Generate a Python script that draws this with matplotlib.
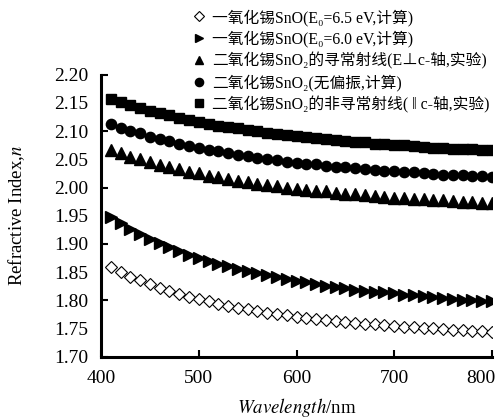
import matplotlib
matplotlib.use("Agg")
import matplotlib.pyplot as plt
from matplotlib.ticker import MultipleLocator, FixedLocator, FormatStrFormatter
from matplotlib.transforms import ScaledTranslation

plt.rcParams['font.family'] = ['Liberation Serif', 'Noto Sans CJK SC', 'DejaVu Serif']
plt.rcParams['mathtext.fontset'] = 'stix'

# длины волн, нм
wavelength = list(range(410, 801, 10))

# SnO, E0 = 6.5 eV (расчёт)
sno_65 = [1.859, 1.850, 1.842, 1.835, 1.828, 1.822, 1.817, 1.811, 1.806, 1.802,
          1.798, 1.794, 1.790, 1.787, 1.784, 1.781, 1.778, 1.776, 1.773, 1.771,
          1.769, 1.767, 1.765, 1.763, 1.762, 1.760, 1.758, 1.757, 1.756, 1.754,
          1.753, 1.752, 1.751, 1.750, 1.749, 1.748, 1.747, 1.746, 1.745, 1.744]

# SnO, E0 = 6.0 eV (расчёт)
sno_60 = [1.948, 1.937, 1.927, 1.918, 1.909, 1.901, 1.894, 1.887, 1.881, 1.875,
          1.870, 1.865, 1.860, 1.856, 1.851, 1.848, 1.844, 1.841, 1.837, 1.834,
          1.832, 1.829, 1.826, 1.824, 1.822, 1.819, 1.817, 1.815, 1.814, 1.812,
          1.810, 1.809, 1.807, 1.806, 1.804, 1.803, 1.801, 1.800, 1.799, 1.798]

# SnO2, обыкновенный луч (эксперимент)
sno2_o = [2.067, 2.061, 2.055, 2.050, 2.045, 2.040, 2.036, 2.032, 2.028, 2.025,
          2.021, 2.018, 2.015, 2.012, 2.010, 2.007, 2.005, 2.002, 2.000, 1.998,
          1.996, 1.994, 1.993, 1.991, 1.989, 1.988, 1.986, 1.985, 1.984, 1.982,
          1.981, 1.980, 1.979, 1.978, 1.977, 1.976, 1.975, 1.974, 1.973, 1.972]

# SnO2, без поляризации (расчёт)
sno2_avg = [2.112, 2.106, 2.100, 2.096, 2.090, 2.086, 2.082, 2.078, 2.074, 2.071,
            2.067, 2.064, 2.061, 2.058, 2.056, 2.053, 2.051, 2.048, 2.046, 2.044,
            2.042, 2.041, 2.039, 2.037, 2.036, 2.034, 2.033, 2.031, 2.030, 2.029,
            2.028, 2.027, 2.025, 2.024, 2.023, 2.022, 2.022, 2.021, 2.020, 2.019]

# SnO2, необыкновенный луч (эксперимент)
sno2_e = [2.157, 2.151, 2.146, 2.141, 2.136, 2.132, 2.128, 2.124, 2.120, 2.117,
          2.113, 2.110, 2.107, 2.105, 2.102, 2.100, 2.097, 2.095, 2.093, 2.091,
          2.089, 2.088, 2.086, 2.084, 2.083, 2.081, 2.080, 2.078, 2.077, 2.076,
          2.075, 2.074, 2.072, 2.071, 2.070, 2.069, 2.069, 2.068, 2.067, 2.066]

labels = ["一氧化锡SnO(E₀=6.5 eV,计算)",
          "一氧化锡SnO(E₀=6.0 eV,计算)",
          "二氧化锡SnO₂的寻常射线(E⊥c-轴,实验)",
          "二氧化锡SnO₂(无偏振,计算)",
          "二氧化锡SnO₂的非寻常射线( ‖ c-轴,实验)"]

fig = plt.figure(figsize=(5.03, 4.18), dpi=100)
ax = fig.add_axes([0.201, 0.147, 0.777, 0.674])

ax.plot(wavelength, sno_65, ls='none', marker='D', ms=6.0, mfc='white', mec='black', mew=0.8, label=labels[0])
ax.plot(wavelength, sno_60, ls='none', marker='>', ms=8, color='black', label=labels[1])
ax.plot(wavelength, sno2_o, ls='none', marker='^', ms=8, color='black', label=labels[2])
ax.plot(wavelength, sno2_avg, ls='none', marker='o', ms=7.4, color='black', label=labels[3])
ax.plot(wavelength, sno2_e, ls='none', marker='s', ms=7.0, color='black', label=labels[4])

ax.set_xlim(400, 800)
ax.set_ylim(1.70, 2.20)

# оси
for s in ['top', 'right']:
    ax.spines[s].set_visible(False)
for s in ['left', 'bottom']:
    ax.spines[s].set_linewidth(2.2)

ax.set_xticks([400, 500, 600, 700, 800])
ax.yaxis.set_major_locator(MultipleLocator(0.1))
ax.yaxis.set_minor_locator(FixedLocator([1.75, 1.85, 1.95, 2.05, 2.15]))
ax.yaxis.set_major_formatter(FormatStrFormatter('%.2f'))
ax.yaxis.set_minor_formatter(FormatStrFormatter('%.2f'))
ax.tick_params(axis='both', which='major', direction='in', length=5, width=1.5, labelsize=14)
ax.tick_params(axis='y', which='minor', length=0, labelsize=14)
ax.tick_params(axis='y', which='both', pad=9)
ax.tick_params(axis='x', which='major', pad=10)

ax.set_xlabel(r'$\it{Wavelength}$/nm', fontsize=13.5, labelpad=6)
ax.set_ylabel(r'Refractive Index,$n$', fontsize=13.5, labelpad=20)

# подпись 800 прижата вправо, чтобы не обрезалась
tick800 = ax.xaxis.get_major_ticks()[4]
tick800.label1.set_horizontalalignment('right')
tick800.label1.set_transform(tick800.label1.get_transform() + ScaledTranslation(4 / 100, 0, fig.dpi_scale_trans))

leg = fig.legend(loc='upper left', bbox_to_anchor=(0.364, 0.997), frameon=False, fontsize=11.3,
                 handlelength=1.0, handletextpad=0.35, labelspacing=0.3, borderpad=0,
                 numpoints=1, markerscale=0.8)

fig.savefig("out.png", dpi=100)
